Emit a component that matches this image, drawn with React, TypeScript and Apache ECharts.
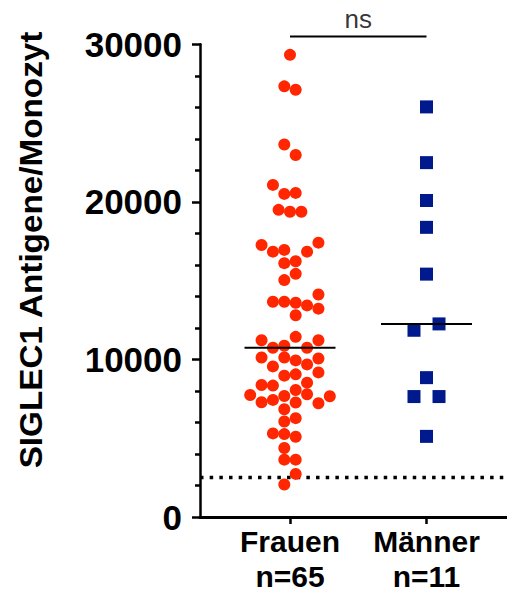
import React, { useEffect, useRef } from 'react';
import * as echarts from 'echarts';

const categories = ['Frauen', 'Männer'];
const sampleSizes = ['n=65', 'n=11'];
const yTickValues = [0, 10000, 20000, 30000];
const yAxisTitle = 'SIGLEC1 Antigene/Monozyt';

const frauenValues = [
  29330, 27330, 27120, 23645, 22970, 21075, 20505, 20570, 19495, 19370, 19370,
  17265, 17410, 16840, 16950, 16840, 16110, 16235, 15035, 15433, 14125, 13664,
  13664, 13600, 13430, 13222, 12800, 11220, 11434, 11220, 10740, 10865, 10740,
  10126, 10126, 9937, 10063, 9558, 9684, 8970, 9052, 9178, 8376, 8338, 8528,
  7745, 8060, 7681, 7789, 7663, 7284, 7430, 7263, 7220, 6841, 6273, 6063, 5306,
  5262, 5093, 4378, 3640, 3640, 2735, 2060,
];
const frauenOffsets = [
  0, -0.5, 0.5, -0.5, 0.5, -1.5, -0.5, 0.5, -1, 0, 1,
  -2.5, 2.5, -1.5, -0.5, 1.5, -0.5, 0.5, -0.5, 0.5, 2.5, -1.5,
  -0.5, 0.5, 1.5, 2.5, 0.5, -2.5, 0.5, 2.5, -1.5, -0.5, 1.5,
  -2.5, -0.5, 0.5, 2.5, -1.5, 1.5, -0.5, 0.5, 2.5, -2.5, -1.5, 1.5,
  -3.5, 0.5, -0.5, 1.5, 3.5, -2.5, -1.5, 0.5, 2.5, -0.5, 0.5, -0.5, -1.5,
  -0.5, 0.5, -0.5, -0.5, 0.5, 0.5, -0.5,
];
const maennerValues = [26027, 22490, 20088, 18383, 15414, 12255, 11851, 8844, 7644, 7644, 5117];
const maennerOffsets = [0, 0, 0, 0, 0, 1.1, -1.1, 0, -1.1, 1.1, 0];

const thresholdValue = 2500;
const significanceText = 'ns';
const significanceValue = 30490;

// layout (x axis in "swarm column" units)
const groupCenters = [0, 12];
const xMin = -7.912;
const xMax = 19.077;
const medianHalfWidth = 4;

const median = (arr: number[]) => {
  const s = [...arr].sort((a, b) => a - b);
  const m = Math.floor(s.length / 2);
  return s.length % 2 ? s[m] : (s[m - 1] + s[m]) / 2;
};

const FONT = '"Liberation Sans", Arial, sans-serif';

export default function App() {
  const ref = useRef<HTMLDivElement>(null);
  useEffect(() => {
    if (!ref.current) return;
    const chart = echarts.init(ref.current, undefined, { renderer: 'svg' });
    const fMed = median(frauenValues);
    const mMed = median(maennerValues);
    const sigCenter = (groupCenters[0] + groupCenters[1]) / 2;
    chart.setOption({
      animation: false,
      backgroundColor: '#fff',
      grid: { left: 200, right: 0, top: 44.3, bottom: 74.7, containLabel: false },
      xAxis: {
        type: 'value',
        min: xMin,
        max: xMax,
        axisLine: { show: true, onZero: false, lineStyle: { color: '#000', width: 3 } },
        axisTick: { show: true, customValues: groupCenters, length: 7, lineStyle: { color: '#000', width: 2.5 } },
        axisLabel: {
          customValues: groupCenters,
          formatter: (v: number) => {
            const i = groupCenters.indexOf(v);
            return i >= 0 ? `${categories[i]}\n${sampleSizes[i]}` : '';
          },
          color: '#000',
          fontFamily: FONT,
          fontWeight: 'bold',
          fontSize: 30,
          lineHeight: 35,
          margin: 7,
        },
        splitLine: { show: false },
      },
      yAxis: {
        type: 'value',
        min: yTickValues[0],
        max: yTickValues[yTickValues.length - 1],
        interval: yTickValues[1] - yTickValues[0],
        axisLine: { show: true, onZero: false, lineStyle: { color: '#000', width: 2.5 } },
        axisTick: { show: true, length: 8, lineStyle: { color: '#000', width: 2.5 } },
        minorTick: { show: true, splitNumber: 5, length: 5, lineStyle: { color: '#000', width: 2.5 } },
        axisLabel: {
          color: '#000',
          fontFamily: FONT,
          fontWeight: 'bold',
          fontSize: 35,
          margin: 18,
          formatter: (v: number) => String(v),
        },
        splitLine: { show: false },
        minorSplitLine: { show: false },
      },
      graphic: [
        {
          type: 'text',
          x: 31,
          y: 250,
          rotation: Math.PI / 2,
          scaleX: 1.04,
          silent: true,
          style: {
            text: yAxisTitle,
            fill: '#000',
            font: `bold 32px ${FONT}`,
            align: 'center',
            verticalAlign: 'middle',
          },
        },
      ],
      series: [
        {
          type: 'line',
          silent: true,
          data: [[xMin, thresholdValue], [xMax, thresholdValue]],
          symbol: 'none',
          lineStyle: { color: '#000', width: 3.5, type: [3.5, 6.17], cap: 'butt' },
          z: 1,
        },
        {
          type: 'scatter',
          silent: true,
          data: frauenValues.map((v, i) => [groupCenters[0] + frauenOffsets[i], v]),
          symbol: 'circle',
          symbolSize: 12,
          itemStyle: { color: '#FF2600', opacity: 1 },
          z: 2,
        },
        {
          type: 'scatter',
          silent: true,
          data: maennerValues.map((v, i) => [groupCenters[1] + maennerOffsets[i], v]),
          symbol: 'rect',
          symbolSize: 13,
          itemStyle: { color: '#001A8E', opacity: 1 },
          z: 2,
        },
        {
          type: 'line',
          silent: true,
          data: [[groupCenters[0] - medianHalfWidth, fMed], [groupCenters[0] + medianHalfWidth, fMed]],
          symbol: 'none',
          lineStyle: { color: '#000', width: 2 },
          z: 3,
        },
        {
          type: 'line',
          silent: true,
          data: [[groupCenters[1] - medianHalfWidth, mMed], [groupCenters[1] + medianHalfWidth, mMed]],
          symbol: 'none',
          lineStyle: { color: '#000', width: 2 },
          z: 3,
        },
        {
          type: 'line',
          silent: true,
          clip: false,
          data: [[groupCenters[0], significanceValue], [groupCenters[1], significanceValue]],
          symbol: 'none',
          lineStyle: { color: '#000', width: 2 },
          z: 3,
        },
        {
          type: 'scatter',
          silent: true,
          clip: false,
          data: [[sigCenter, significanceValue]],
          symbolSize: 0,
          label: {
            show: true,
            position: 'top',
            distance: 5,
            formatter: significanceText,
            color: '#000',
            fontFamily: FONT,
            fontSize: 26,
          },
          z: 3,
        },
      ],
    });
    return () => chart.dispose();
  }, []);
  return <div ref={ref} style={{ position: 'absolute', left: 0, top: 0, width: 507, height: 594 }} />;
}
